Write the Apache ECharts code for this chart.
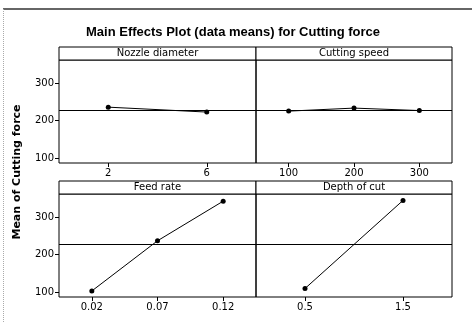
<!DOCTYPE html>
<html>
<head>
<meta charset="utf-8">
<script src="https://cdn.jsdelivr.net/npm/echarts@6/dist/echarts.min.js"></script>
<style>html,body{margin:0;padding:0;background:#fff}#c{width:472px;height:322px}</style>
</head>
<body>
<div id="c"></div>
<script>
// Data
const nozzleCats = ['2', '6'];
const nozzleVals = [236, 223];
const speedCats = ['100', '200', '300'];
const speedVals = [225.5, 233.5, 227];
const feedCats = ['0.02', '0.07', '0.12'];
const feedVals = [104, 237, 342];
const depthCats = ['0.5', '1.5'];
const depthVals = [110.5, 344];
const grandMean = 227.5;
const yTicks = [100, 200, 300];
const panelTitles = ['Nozzle diameter', 'Cutting speed', 'Feed rate', 'Depth of cut'];
const chartTitle = 'Main Effects Plot (data means) for Cutting force';
const yTitle = 'Mean of Cutting force';

const FONT = 'DejaVu Sans';
const chart = echarts.init(document.getElementById('c'));

const grids = [
  {left: 59, top: 60, width: 197, height: 103},
  {left: 256, top: 60, width: 196, height: 103},
  {left: 59, top: 194, width: 197, height: 103},
  {left: 256, top: 194, width: 196, height: 103}
];
const cats = [nozzleCats, speedCats, feedCats, depthCats];
const vals = [nozzleVals, speedVals, feedVals, depthVals];

const xAxes = cats.map((c, i) => ({
  type: 'category', gridIndex: i, data: c, boundaryGap: true,
  axisLine: {show: false},
  axisTick: {show: true, alignWithLabel: true, length: 4, lineStyle: {color: '#000'}},
  axisLabel: {color: '#000', fontFamily: FONT, fontSize: 10, margin: 5},
  splitLine: {show: false}
}));
const yAxes = grids.map((g, i) => ({
  type: 'value', gridIndex: i, min: 88, max: 361,
  axisLine: {show: false},
  axisTick: {show: i % 2 === 0, length: 4, customValues: yTicks, lineStyle: {color: '#000'}},
  axisLabel: {show: i % 2 === 0, customValues: yTicks, color: '#000', fontFamily: FONT, fontSize: 10, margin: 5},
  splitLine: {show: false}
}));
const series = vals.map((v, i) => ({
  type: 'line', xAxisIndex: i, yAxisIndex: i, data: v,
  symbol: 'circle', symbolSize: 5, itemStyle: {color: '#000'},
  lineStyle: {color: '#000', width: 1}, animation: false,
  markLine: {silent: true, symbol: 'none', label: {show: false},
    lineStyle: {color: '#000', width: 1, type: 'solid'},
    data: [{yAxis: grandMean}]}
}));

const graphics = [
  {type: 'line', shape: {x1: 3, y1: 9, x2: 472, y2: 9}, style: {stroke: '#333', lineWidth: 1.5}},
  {type: 'line', shape: {x1: 3.5, y1: 9, x2: 3.5, y2: 322}, style: {stroke: '#aaa', lineWidth: 1, lineDash: [1, 1]}},
  {type: 'text', x: 233, y: 32, style: {text: chartTitle, fontFamily: 'Liberation Sans', fontSize: 13, fontWeight: 'bold', fill: '#000', align: 'center', verticalAlign: 'middle'}},
  {type: 'text', x: 17, y: 172, rotation: Math.PI / 2, style: {text: yTitle, fontFamily: FONT, fontSize: 11, fontWeight: 'bold', fill: '#000', align: 'center', verticalAlign: 'middle'}}
];
grids.forEach((g, i) => {
  graphics.push({type: 'rect', shape: {x: g.left, y: g.top - 13, width: g.width, height: 13}, style: {fill: '#fff', stroke: '#000', lineWidth: 1}});
  graphics.push({type: 'text', x: g.left + g.width / 2, y: g.top - 6.5, style: {text: panelTitles[i], fontFamily: FONT, fontSize: 10, fill: '#000', align: 'center', verticalAlign: 'middle'}});
});

chart.setOption({
  animation: false,
  backgroundColor: '#fff',
  grid: grids.map(g => Object.assign({show: true, borderColor: '#000', borderWidth: 1, backgroundColor: 'transparent'}, g)),
  xAxis: xAxes,
  yAxis: yAxes,
  series: series,
  graphic: graphics
});
</script>
</body>
</html>
